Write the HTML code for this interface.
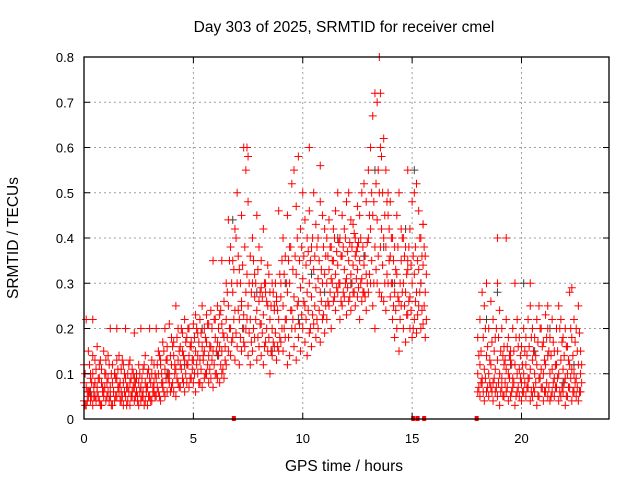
<!DOCTYPE html>
<html><head><meta charset="utf-8"><style>
body{margin:0;background:#fff;}
svg text{font-family:"Liberation Sans",sans-serif;font-size:13px;fill:#000;}
</style></head><body>
<svg id="chart" width="640" height="480" xmlns="http://www.w3.org/2000/svg">
<rect width="640" height="480" fill="#fff"/>
<g id="grid"></g>
<g id="gray"></g>
<g id="red"></g>
<g id="axes"></g>
<text x="344" y="32" text-anchor="middle" style="font-size:15.5px">Day 303 of 2025, SRMTID for receiver cmel</text>
<text x="344" y="471" text-anchor="middle" style="font-size:15.5px">GPS time / hours</text>
<text x="18" y="238" text-anchor="middle" transform="rotate(-90 18 238)" style="font-size:15.5px">SRMTID / TECUs</text>
</svg>
<script>
const xTicks=[0,5,10,15,20];
const yTicks=[0,0.1,0.2,0.3,0.4,0.5,0.6,0.7,0.8];
const yTickLabels=["0","0.1","0.2","0.3","0.4","0.5","0.6","0.7","0.8"];
const segHours=[
[0,0.1,0.2,0.3,0.4,0.5,0.6,0.7,0.8,0.9,1,1.1,1.2,1.3,1.4,1.5,1.6,1.7,1.8,1.9,2,2.1,2.2,2.3,2.4,2.5,2.6,2.7,2.8,2.9,3,3.1,3.2],
[3.3,3.4,3.5,3.6,3.7,3.8,3.9,4,4.1,4.2,4.3,4.4,4.5,4.6,4.7,4.8,4.9,5,5.1,5.2,5.3,5.4,5.5,5.6,5.7,5.8,5.9,6,6.1,6.2,6.3,6.4],
[6.5,6.6,6.7,6.8,6.9,7,7.1,7.2,7.3,7.4,7.5,7.6,7.7,7.8,7.9,8,8.1,8.2,8.3,8.4,8.5,8.6,8.7,8.8,8.9,9],
[9.1,9.2,9.3,9.4,9.5,9.6,9.7,9.8,9.9,10,10.1,10.2,10.3,10.4,10.5,10.6,10.7,10.8,10.9,11],
[11.1,11.2,11.3,11.4,11.5,11.6,11.7,11.8,11.9,12,12.1,12.2,12.3,12.4,12.5,12.6,12.7,12.8,12.9],
[13,13.1,13.2,13.3,13.4,13.5,13.6,13.7,13.8,13.9,14],
[14.1,14.2,14.3,14.4,14.5,14.6,14.7,14.8,14.9,15,15.1,15.2,15.3,15.4,15.5,15.6],
[18,18.1,18.2,18.3,18.4,18.5,18.6,18.7,18.8,18.9,19,19.1,19.2,19.3,19.4,19.5,19.6,19.7,19.8,19.9,20,20.1,20.2,20.3,20.4,20.5,20.6,20.7,20.8,20.9,21,21.1,21.2,21.3,21.4,21.5,21.6,21.7,21.8,21.9,22,22.1,22.2,22.3,22.4,22.5,22.6,22.7]
];
const redA=[
[.04,.03,.05,.04,.03,.05,.06,.04,.03,.05,.04,.06,.05,.03,.04,.05,.06,.04,.03,.05,.04,.03,.05,.04,.06,.03,.04,.05,.04,.03,.05,.04,.06],
[.05,.06,.04,.07,.05,.06,.08,.07,.06,.05,.08,.07,.09,.06,.08,.07,.09,.08,.06,.1,.08,.07,.09,.1,.08,.09,.07,.1,.09,.08,.1,.09],
[.12,.15,.14,.18,.13,.16,.12,.15,.17,.2,.14,.12,.15,.18,.13,.16,.14,.12,.17,.15,.1,.14,.16,.13,.15,.17],
[.15,.18,.12,.14,.2,.16,.13,.18,.15,.2,.17,.14,.19,.16,.21,.18,.2,.17,.22,.19],
[.22,.25,.2,.26,.24,.28,.22,.25,.27,.23,.26,.24,.28,.25,.27,.22,.26,.28,.24],
[.28,.3,.25,.2,.3,.28,.27,.26,.24,.3,.27],
[.22,.18,.2,.15,.25,.2,.17,.23,.2,.18,.22,.19,.25,.2,.21,.18],
[.06,.05,.08,.04,.06,.05,.07,.04,.06,.05,.03,.07,.05,.06,.04,.05,.07,.03,.06,.05,.04,.06,.05,.07,.04,.05,.06,.03,.05,.07,.04,.06,.05,.04,.06,.05,.07,.04,.05,.06,.03,.05,.07,.04,.06,.05,.04,.06]
];
const redB=[
[.08,.07,.06,.09,.1,.08,.07,.09,.08,.06,.1,.09,.07,.08,.1,.09,.07,.06,.08,.09,.07,.08,.06,.07,.09,.08,.07,.06,.08,.07,.09,.1,.08],
[.09,.1,.12,.08,.11,.13,.1,.12,.14,.11,.13,.12,.15,.13,.12,.14,.16,.13,.15,.14,.13,.16,.15,.17,.14,.16,.15,.18,.17,.16,.15,.18],
[.22,.25,.2,.28,.24,.3,.22,.26,.23,.28,.25,.22,.3,.27,.24,.26,.21,.23,.28,.25,.22,.2,.24,.26,.22,.27],
[.25,.22,.28,.3,.24,.27,.32,.26,.29,.31,.25,.28,.3,.27,.33,.29,.31,.28,.3,.32],
[.3,.33,.31,.35,.32,.34,.3,.36,.33,.31,.35,.32,.34,.36,.33,.35,.31,.34,.32],
[.4,.42,.45,.38,.44,.5,.42,.4,.38,.45,.36],
[.3,.28,.32,.26,.35,.3,.28,.33,.27,.3,.32,.28,.33,.3,.34,.28],
[.1,.12,.09,.11,.14,.1,.12,.08,.11,.13,.1,.09,.12,.11,.1,.13,.09,.12,.1,.11,.08,.1,.12,.09,.11,.13,.1,.12,.09,.11,.1,.12,.14,.1,.11,.09,.12,.1,.13,.11,.09,.1,.12,.11,.1,.09,.12,.1]
];
const redC=[
[.12,.22,.15,.1,.14,.13,.16,.12,.11,.15,.13,.14,.2,.12,.1,.13,.14,.11,.12,.2,.1,.13,.11,.09,.1,.12,.2,.11,.14,.1,.2,.13,.12],
[.2,.15,.13,.17,.2,.16,.21,.18,.17,.25,.2,.16,.19,.22,.18,.2,.17,.21,.23,.19,.22,.25,.2,.23,.21,.24,.35,.22,.25,.23,.21,.26],
[.3,.44,.38,.35,.42,.5,.33,.45,.6,.55,.48,.36,.4,.32,.45,.38,.35,.42,.3,.34,.28,.3,.25,.27,.46,.3],
[.4,.36,.45,.38,.52,.55,.47,.58,.42,.5,.44,.4,.46,.38,.5,.43,.4,.48,.45,.42],
[.4,.44,.38,.42,.46,.5,.4,.45,.42,.48,.5,.44,.43,.4,.47,.45,.5,.52,.48],
[.55,.6,.67,.72,.7,.8,.58,.62,.55,.5,.48],
[.4,.38,.45,.5,.42,.4,.38,.35,.42,.48,.5,.52,.46,.4,.43,.36],
[.18,.22,.28,.25,.3,.2,.26,.22,.18,.4,.24,.2,.16,.22,.18,.15,.2,.3,.22,.18,.16,.2,.18,.22,.25,.2,.18,.22,.25,.2,.17,.23,.2,.18,.22,.15,.2,.25,.22,.18,.2,.16,.28,.18,.22,.2,.25,.15]
];
const redD=[
[.03,.04,.06,.05,.07,.04,.05,.03,.06,.07,.05,.04,.03,.06,.05,.07,.04,.05,.06,.03,.06,.05,.07,.05,.04,.06,.05,.03,.06,.05,.04,.07,.05],
[.07,.05,.08,.06,.09,.1,.06,.08,.1,.09,.07,.11,.08,.1,.12,.09,.11,.1,.12,.08,.11,.13,.1,.12,.11,.13,.12,.1,.14,.12,.11,.13],
[.18,.2,.17,.22,.19,.24,.18,.2,.16,.22,.19,.17,.2,.22,.18,.21,.19,.16,.2,.18,.15,.17,.19,.16,.18,.2],
[.2,.22,.18,.24,.22,.2,.25,.21,.23,.26,.22,.24,.2,.23,.25,.22,.24,.26,.23,.25],
[.26,.28,.3,.27,.29,.3,.26,.28,.3,.29,.27,.3,.28,.31,.29,.3,.28,.27,.3],
[.32,.35,.3,.33,.36,.38,.34,.3,.32,.35,.3],
[.25,.24,.27,.22,.28,.25,.23,.26,.24,.2,.26,.23,.28,.24,.25,.22],
[.07,.08,.06,.09,.07,.08,.06,.09,.07,.08,.06,.05,.08,.07,.09,.06,.08,.05,.07,.09,.06,.08,.07,.09,.06,.07,.08,.05,.09,.07,.06,.08,.07,.05,.08,.07,.09,.06,.07,.08,.05,.07,.09,.06,.08,.07,.06,.08]
];
const redE=[
[.1,.06,.12,.08,.05,.11,.09,.13,.07,.1,.08,.12,.1,.06,.09,.11,.08,.13,.1,.07,.12,.09,.1,.08,.05,.1,.09,.12,.07,.11,.08,.06,.1],
[.12,.14,.1,.15,.13,.09,.14,.16,.12,.18,.15,.2,.14,.17,.2,.16,.13,.18,.2,.17,.19,.14,.18,.21,.16,.2,.22,.15,.2,.24,.19,.16],
[.28,.35,.3,.33,.4,.36,.3,.34,.38,.32,.3,.28,.35,.3,.33,.28,.27,.3,.26,.32,.25,.28,.3,.24,.32,.35],
[.32,.3,.35,.38,.33,.36,.4,.35,.38,.36,.34,.37,.35,.4,.36,.38,.35,.33,.38,.36],
[.36,.38,.35,.4,.37,.39,.36,.38,.4,.37,.39,.38,.41,.37,.39,.4,.38,.36,.39],
[.45,.5,.48,.52,.55,.6,.5,.45,.48,.42,.4],
[.35,.33,.38,.3,.4,.36,.32,.38,.34,.36,.38,.35,.4,.36,.38,.32],
[.14,.15,.18,.2,.16,.13,.17,.15,.2,.18,.15,.14,.13,.16,.14,.12,.15,.18,.16,.14,.12,.15,.14,.16,.18,.15,.14,.17,.2,.16,.13,.18,.15,.14,.17,.12,.15,.2,.17,.14,.16,.13,.2,.14,.17,.15,.19,.12]
];
const extraHours=[0.4,1.5,2.3,7.45,7.5,10.3,10.8,13.55,14.8,15.5,19.3,22.3,18.9,6.3,7.2,8.1,12.5,20.4,21.2];
const extraValues=[0.22,0.2,0.19,0.6,0.58,0.6,0.56,0.72,0.55,0.43,0.4,0.29,0.3,0.35,0.25,0.29,0.38,0.3,0.25];
const grayHours=[0.3,1.2,2.6,3.8,4.6,5.4,6.1,6.8,7.3,7.9,8.6,9.2,9.8,10.4,11.0,11.6,12.2,12.8,13.3,13.7,14.2,14.7,15.1,15.4,18.4,18.9,19.5,20.1,20.6,21.3,21.9,22.4];
const grayValues=[0.06,0.05,0.07,0.1,0.12,0.2,0.14,0.44,0.2,0.28,0.15,0.3,0.22,0.32,0.28,0.4,0.3,0.36,0.55,0.38,0.3,0.42,0.55,0.3,0.22,0.28,0.12,0.3,0.15,0.2,0.08,0.12];
const gapHours=[6.85,15.05,15.25,15.55,17.95];

const X0=84,X1=609,Y0=419,Y1=57;
const xs=h=>X0+(h/24)*(X1-X0);
const ys=v=>Y0-(v/0.8)*(Y0-Y1);
const NS="http://www.w3.org/2000/svg";
function mk(tag,attrs,parent){const e=document.createElementNS(NS,tag);for(const k in attrs)e.setAttribute(k,attrs[k]);parent.appendChild(e);return e;}
const grid=document.getElementById('grid'),axes=document.getElementById('axes');
yTicks.forEach((v,i)=>{
  const y=ys(v);
  if(i>0&&i<yTicks.length-1){const g=mk('line',{x1:X0,x2:X1,y1:y,y2:y,stroke:'#a0a0a0','stroke-dasharray':'2,3'},grid);
  
  }
  mk('line',{x1:X0,x2:X0+6,y1:y,y2:y,stroke:'#000'},axes);
  mk('line',{x1:X1,x2:X1-6,y1:y,y2:y,stroke:'#000'},axes);
  const t=mk('text',{x:X0-10,y:y+5,'text-anchor':'end'},axes);t.textContent=yTickLabels[i];
  
  
});
xTicks.forEach(h=>{
  const x=xs(h);
  if(h>0){const g=mk('line',{x1:x,x2:x,y1:Y0,y2:Y1,stroke:'#a0a0a0','stroke-dasharray':'2,3'},grid);
  
  }
  mk('line',{x1:x,x2:x,y1:Y0,y2:Y0-6,stroke:'#000'},axes);
  mk('line',{x1:x,x2:x,y1:Y1,y2:Y1+6,stroke:'#000'},axes);
  const t=mk('text',{x:x,y:Y0+24,'text-anchor':'middle'},axes);t.textContent=String(h);
  
  
});
const frame=mk('rect',{x:X0,y:Y1,width:X1-X0,height:Y0-Y1,fill:'none',stroke:'#000','stroke-width':1.3},axes);


function cross(h,v,col,parent,name){
  const x=xs(h),y=ys(v);
  const p=mk('path',{d:`M${x-4} ${y}H${x+4}M${x} ${y-4}V${y+4}`,stroke:col,'stroke-width':1,fill:'none'},parent);
  
  
}
const gray=document.getElementById('gray'),red=document.getElementById('red');
grayHours.forEach((h,i)=>cross(h,grayValues[i],'#404040',gray,'gray-point'));
segHours.forEach((hs,s)=>{
  [redA,redB,redC].forEach(arr=>{
    const vals=arr[s];
    for(let i=0;i<Math.min(hs.length,vals.length);i++)cross(hs[i],vals[i],'#ff0000',red,'red-point');
  });
  [redD,redE].forEach(arr=>{
    const vals=arr[s];
    for(let i=0;i<Math.min(hs.length,vals.length);i++)cross(hs[i]+0.05,vals[i],'#ff0000',red,'red-point');
  });
});
extraHours.forEach((h,i)=>cross(h,extraValues[i],'#ff0000',red,'red-point'));
gapHours.forEach(h=>{
  const r=mk('rect',{x:xs(h)-2,y:Y0-3,width:4,height:5,fill:'#ff0000'},red);
  
  
});
</script>
</body></html>
